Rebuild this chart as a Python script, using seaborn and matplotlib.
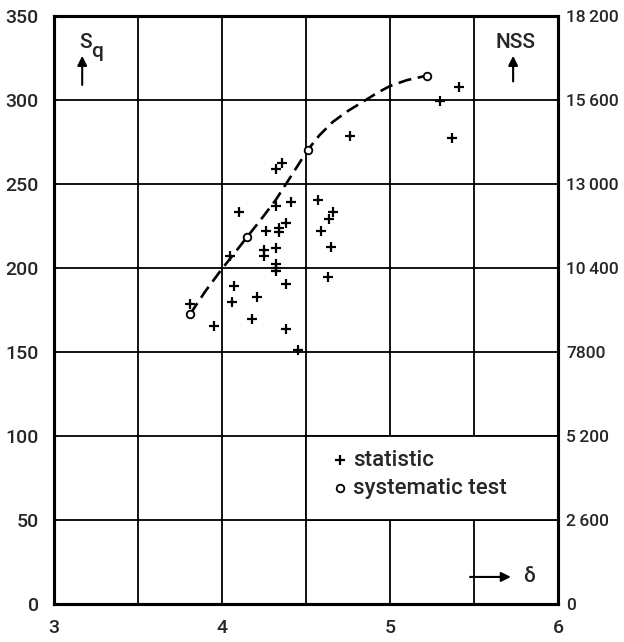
import matplotlib
matplotlib.use("Agg")
import matplotlib.pyplot as plt
import pandas as pd
import seaborn as sns
from matplotlib.patches import Rectangle

# statistic points (delta, Sq)
stat_delta = [4.76, 4.32, 4.36, 4.10, 4.32, 4.41, 4.57, 4.66, 4.64, 4.38, 4.34, 4.34,
              4.26, 4.59, 4.25, 4.25, 4.32, 4.65, 4.05, 4.32, 4.32, 4.32, 4.63, 4.07,
              4.38, 4.06, 4.21, 3.81, 4.18, 3.95, 4.38, 4.45, 5.41, 5.30, 5.37]
stat_sq = [278.6, 258.9, 262.3, 233.5, 236.9, 239.5, 240.5, 233.5, 229.0, 226.6, 223.6, 221.6,
           222.2, 222.0, 210.7, 207.1, 211.7, 212.7, 207.1, 202.4, 199.8, 198.2, 194.5, 189.5,
           190.5, 179.6, 182.6, 178.6, 169.6, 165.7, 163.5, 151.2, 307.9, 299.6, 277.6]

# systematic test points
test_delta = [3.81, 4.15, 4.51, 5.22]
test_sq = [172.5, 218.5, 270.2, 314.5]

# dashed curve
curve_delta = [3.81, 3.90, 4.00, 4.08, 4.15, 4.23, 4.32, 4.41, 4.51, 4.58, 4.66, 4.75,
               4.84, 4.92, 5.00, 5.10, 5.22]
curve_sq = [172.5, 186.0, 199.5, 209.5, 218.5, 228.6, 240.5, 254.5, 270.2, 279.0, 287.0, 293.5,
            299.0, 304.0, 308.3, 311.8, 314.5]

left_ticks = [0, 50, 100, 150, 200, 250, 300, 350]
right_ticks = [0, 2600, 5200, 7800, 10400, 13000, 15600, 18200]
right_labels = ["0", "2\u2009600", "5\u2009200", "7800", "10\u2009400", "13\u2009000", "15\u2009600", "18\u2009200"]
x_ticks = [3, 4, 5, 6]

sns.set_style("white")
plt.rcParams['font.family'] = ['Roboto', 'Liberation Sans', 'DejaVu Sans']
plt.rcParams['font.weight'] = 'medium'
FS = 14

stat_df = pd.DataFrame({'delta': stat_delta, 'sq': stat_sq})
test_df = pd.DataFrame({'delta': test_delta, 'sq': test_sq})
curve_df = pd.DataFrame({'delta': curve_delta, 'sq': curve_sq})

fig = plt.figure(figsize=(6.24, 6.42), dpi=100)
ax = fig.add_axes([0.0865, 0.0592, 0.8077, 0.9159])

ax.set_xlim(3, 6)
ax.set_ylim(0, 350)
for v in [3.5, 4, 4.5, 5, 5.5]:
    ax.axvline(v, color='black', lw=1.3, zorder=1)
for v in [50, 100, 150, 200, 250, 300]:
    ax.axhline(v, color='black', lw=1.3, zorder=1)

# legend panel covering the grid
ax.add_patch(Rectangle((4.5, 50), 1.5, 50, facecolor='white', edgecolor='black', lw=1.3, zorder=2))

sns.lineplot(data=curve_df, x='delta', y='sq', sort=False, ax=ax, color='black', lw=1.9,
             dashes=False, zorder=3).lines[-1].set_dashes((5, 2.5))
sns.scatterplot(data=stat_df, x='delta', y='sq', ax=ax, marker='+', s=45, color='black',
                linewidth=1.6, zorder=4, label='statistic')
sns.scatterplot(data=test_df, x='delta', y='sq', ax=ax, marker='o', s=30, facecolor='white',
                edgecolor='black', linewidth=1.3, zorder=5, label='systematic test')

ax.legend(loc='upper left', bbox_to_anchor=(0.51, 0.288), frameon=False, fontsize=16,
          handletextpad=0.0, labelspacing=0.3, handlelength=1.2, borderpad=0.2)

ax.set_xticks(x_ticks)
ax.set_xticklabels([str(t) for t in x_ticks], fontsize=FS)
ax.set_yticks(left_ticks)
ax.set_yticklabels([str(t) for t in left_ticks], fontsize=FS)
ax.tick_params(axis='both', length=0)
ax.tick_params(axis='x', pad=11)
ax.tick_params(axis='y', pad=11)
ax.set_xlabel('')
ax.set_ylabel('')

ax2 = ax.twinx()
ax2.set_ylim(0, 18200)
ax2.set_yticks(right_ticks)
ax2.set_yticklabels(right_labels, fontsize=12.5)
ax2.tick_params(axis='y', length=0, pad=6)

for a in (ax, ax2):
    for sp in a.spines.values():
        sp.set_linewidth(2.2)
        sp.set_color('black')

# axis captions with arrows
ax.text(0.05, 0.955, 'S', transform=ax.transAxes, fontsize=15, ha='left', va='center')
ax.text(0.074, 0.94, 'q', transform=ax.transAxes, fontsize=15, ha='left', va='center')
ax.annotate('', xy=(0.056, 0.937), xytext=(0.056, 0.878), xycoords='axes fraction',
            arrowprops=dict(arrowstyle='-|>', color='black', lw=1.5, mutation_scale=14))
ax.text(0.915, 0.955, 'NSS', transform=ax.transAxes, fontsize=15, ha='center', va='center')
ax.annotate('', xy=(0.911, 0.937), xytext=(0.911, 0.884), xycoords='axes fraction',
            arrowprops=dict(arrowstyle='-|>', color='black', lw=1.5, mutation_scale=14))
ax.annotate('', xy=(0.912, 0.046), xytext=(0.82, 0.046), xycoords='axes fraction',
            arrowprops=dict(arrowstyle='-|>', color='black', lw=1.5, mutation_scale=14))
ax.text(0.93, 0.046, '\u03b4', transform=ax.transAxes, fontsize=15, ha='left', va='center')

fig.savefig('out.png', dpi=100)
